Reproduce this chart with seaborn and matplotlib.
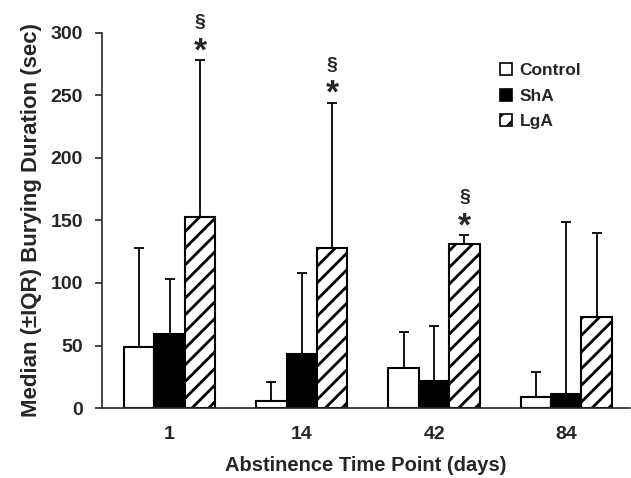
import numpy as np
import pandas as pd
import matplotlib
matplotlib.use('Agg')
import matplotlib.pyplot as plt
import seaborn as sns
from matplotlib.patches import Patch

# data
days = ['1', '14', '42', '84']
groups = ['Control', 'ShA', 'LgA']
control_med = [49, 6, 32, 9]
control_q3 = [128, 21, 61, 29]
sha_med = [59, 43, 22, 11]
sha_q3 = [103, 108, 66, 149]
lga_med = [153, 128, 131, 73]
lga_q3 = [278, 244, 138, 140]
sig_days = ['1', '14', '42']  # LgA differs (* and §)

df = pd.DataFrame({
    'day': days * 3,
    'group': ['Control'] * 4 + ['ShA'] * 4 + ['LgA'] * 4,
    'median': control_med + sha_med + lga_med,
    'q3': control_q3 + sha_q3 + lga_q3,
})

sns.set_style('white')
plt.rcParams['font.family'] = ['Liberation Sans', 'DejaVu Sans']
plt.rcParams['font.weight'] = 'bold'
plt.rcParams['hatch.linewidth'] = 2.0

fig = plt.figure(figsize=(6.31, 4.78), dpi=100)
ax = fig.add_axes([0.162, 0.146, 0.836, 0.786])

sns.barplot(data=df, x='day', y='median', hue='group', order=days,
            hue_order=groups, width=0.69, errorbar=None, legend=False,
            edgecolor='black', linewidth=1.5, ax=ax)

faces = {'Control': 'white', 'ShA': 'black', 'LgA': 'white'}
hatches = {'Control': '', 'ShA': '', 'LgA': '//'}
for cont, g in zip(ax.containers, groups):
    sub = df[df.group == g].set_index('day').loc[days]
    for bar, d in zip(cont, days):
        bar.set_facecolor(faces[g])
        bar.set_edgecolor('black')
        bar.set_hatch(hatches[g])
        xc = bar.get_x() + bar.get_width() / 2
        med = sub.loc[d, 'median']
        top = sub.loc[d, 'q3']
        ax.errorbar(xc, med, yerr=[[0], [top - med]], fmt='none',
                    ecolor='black', elinewidth=1.3, capsize=3.6, capthick=1.3)
        if g == 'LgA' and d in sig_days:
            # star and section sign above the upper quartile
            ax.text(xc, top + 19, '*', ha='center', va='top',
                    fontsize=24, fontweight='bold', clip_on=False)
            ax.text(xc, top + 30, '§', ha='center', va='center',
                    fontsize=14, fontweight='bold', clip_on=False)

ax.set_ylim(0, 300)
ax.set_xlim(-0.51, 3.48)
ax.set_yticks(range(0, 301, 50))
ax.tick_params(axis='y', direction='out', length=5, width=1.2, left=True,
               labelsize=14, pad=9)
ax.tick_params(axis='x', length=0, labelsize=14, pad=13)
for lab in ax.get_xticklabels() + ax.get_yticklabels():
    lab.set_fontweight('bold')
sns.despine(ax=ax)
ax.spines['left'].set_linewidth(1.2)
ax.spines['bottom'].set_linewidth(1.2)

ax.set_xlabel('Abstinence Time Point (days)', fontsize=14.5,
              fontweight='bold', labelpad=9)
ax.set_ylabel('Median (\u00b1IQR) Burying Duration (sec)', fontsize=16,
              fontweight='bold', labelpad=6)

handles = [Patch(facecolor=faces[g], edgecolor='black', hatch=hatches[g],
                 linewidth=1.2, label=g) for g in groups]
ax.legend(handles=handles, loc='upper left', bbox_to_anchor=(0.725, 0.96),
          frameon=False, handlelength=0.7, handleheight=0.7,
          handletextpad=0.4, labelspacing=0.6,
          prop={'weight': 'bold', 'size': 12.5})

fig.savefig('out.png', dpi=100)
